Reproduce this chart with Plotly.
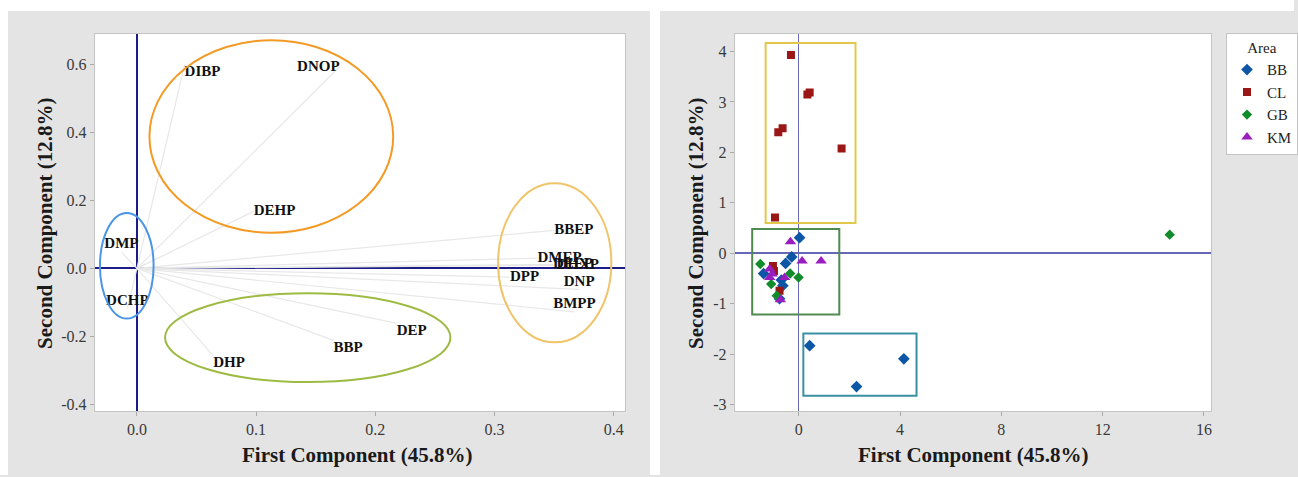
import plotly.graph_objects as go

# ---------------- Left panel: loading plot ----------------
load_labels = ["DMP", "DCHP", "DIBP", "DNOP", "DEHP", "DHP", "BBP", "DEP",
               "BBEP", "DMEP", "DEEP", "DHXP", "DPP", "DNP", "BMPP"]
load_pc1 = [-0.013, -0.008, 0.040, 0.170, 0.098, 0.064, 0.165, 0.218,
            0.350, 0.336, 0.349, 0.352, 0.313, 0.371, 0.367]
load_pc2 = [0.048, -0.118, 0.600, 0.594, 0.168, -0.257, -0.212, -0.162,
            0.112, 0.030, 0.012, 0.009, -0.026, -0.062, -0.128]
load_textpos = ["top center", "top center", "bottom right", "middle left",
                "middle right", "bottom right", "bottom right", "bottom right",
                "middle right", "middle right", "middle right", "middle right",
                "middle right", "top center", "top center"]

left_xticks = [0.0, 0.1, 0.2, 0.3, 0.4]
left_xticklabels = ["0.0", "0.1", "0.2", "0.3", "0.4"]
left_yticks = [-0.4, -0.2, 0.0, 0.2, 0.4, 0.6]
left_yticklabels = ["-0.4", "-0.2", "0.0", "0.2", "0.4", "0.6"]

# ellipses grouping loadings
ellipse_x0 = [0.0105, -0.031, 0.0236, 0.303]
ellipse_x1 = [0.215, 0.014, 0.263, 0.398]
ellipse_y0 = [0.105, -0.148, -0.335, -0.218]
ellipse_y1 = [0.672, 0.163, -0.073, 0.251]
ellipse_colors = ["#f39a25", "#4a96e6", "#9dbb42", "#efc46a"]

# ---------------- Right panel: score plot ----------------
areas = ["BB", "CL", "GB", "KM"]
bb_pc1 = [0.03, -0.28, -0.52, -1.39, -0.69, -0.63, -0.76, 0.43, 4.15, 2.28]
bb_pc2 = [0.31, -0.07, -0.20, -0.40, -0.53, -0.64, -0.90, -1.83, -2.09, -2.64]
cl_pc1 = [-0.31, 0.34, 0.43, -0.81, -0.64, 1.69, -0.94, -1.02, -0.98, -0.76]
cl_pc2 = [3.93, 3.15, 3.19, 2.40, 2.48, 2.08, 0.71, -0.25, -0.35, -0.74]
gb_pc1 = [-1.52, -0.34, -0.01, -1.09, -0.87, 14.65]
gb_pc2 = [-0.21, -0.40, -0.48, -0.61, -0.84, 0.37]
km_pc1 = [-0.33, 0.13, 0.88, -1.15, -1.05, -1.15, -0.56, -0.73]
km_pc2 = [0.23, -0.15, -0.15, -0.31, -0.41, -0.48, -0.48, -0.92]

area_colors = ["#0d56a6", "#9b1616", "#108c2a", "#9a1dc0"]
area_symbols = ["diamond", "square", "diamond", "triangle-up"]

right_xticks = [0, 4, 8, 12, 16]
right_yticks = [-3, -2, -1, 0, 1, 2, 3, 4]

# rectangles grouping scores
rect_x0 = [-1.31, -1.84, 0.18]
rect_x1 = [2.24, 1.60, 4.65]
rect_y0 = [0.60, -1.21, -2.82]
rect_y1 = [4.17, 0.48, -1.59]
rect_colors = ["#e2c84a", "#4f8a50", "#3b8fa3"]

W, H = 1298, 477
FONT = "Liberation Serif"
GREY = "#e4e4e4"

fig = go.Figure()

# loading lines from the origin
lx, ly = [], []
for a, b in zip(load_pc1, load_pc2):
    lx += [0, a, None]
    ly += [0, b, None]
fig.add_trace(go.Scatter(x=lx, y=ly, mode="lines",
                         line=dict(color="#e8e8e8", width=1.2),
                         hoverinfo="skip", showlegend=False,
                         xaxis="x", yaxis="y"))
fig.add_trace(go.Scatter(x=load_pc1, y=load_pc2, mode="text", text=load_labels,
                         textposition=load_textpos,
                         textfont=dict(family=FONT, size=15, color="#111"),
                         texttemplate="<b>%{text}</b>",
                         showlegend=False, xaxis="x", yaxis="y"))

score_x = [bb_pc1, cl_pc1, gb_pc1, km_pc1]
score_y = [bb_pc2, cl_pc2, gb_pc2, km_pc2]
marker_sizes = [9, 8, 8, 10]
for name, xs, ys, col, sym, sz in zip(areas, score_x, score_y, area_colors,
                                      area_symbols, marker_sizes):
    fig.add_trace(go.Scatter(x=xs, y=ys, mode="markers", name=name,
                             marker=dict(color=col, symbol=sym, size=sz,
                                         line=dict(width=0)),
                             xaxis="x2", yaxis="y2"))

shapes = []
# white gaps around the grey panels (paper colour is grey)
for (x0, x1, y0, y1) in [(0, W, 0, 11), (0, 8, 0, H), (652, 662, 0, H)]:
    shapes.append(dict(type="rect", xref="paper", yref="paper",
                       x0=x0 / W, x1=x1 / W, y0=1 - y1 / H, y1=1 - y0 / H,
                       fillcolor="white", line=dict(width=0), layer="below"))
for x0, x1, y0, y1, c in zip(ellipse_x0, ellipse_x1, ellipse_y0, ellipse_y1,
                             ellipse_colors):
    shapes.append(dict(type="circle", xref="x", yref="y", x0=x0, x1=x1,
                       y0=y0, y1=y1, line=dict(color=c, width=2),
                       layer="above"))
for x0, x1, y0, y1, c in zip(rect_x0, rect_x1, rect_y0, rect_y1, rect_colors):
    shapes.append(dict(type="rect", xref="x2", yref="y2", x0=x0, x1=x1,
                       y0=y0, y1=y1, line=dict(color=c, width=2),
                       layer="above"))

tickfont = dict(family=FONT, size=16, color="#3a3a3a")
axis_common = dict(showgrid=False, showline=True, mirror=True,
                   linecolor="#c4c4c4", linewidth=1, ticks="outside",
                   ticklen=4, tickcolor="#aaaaaa", tickfont=tickfont,
                   zeroline=True)


def px(v):
    return v / W


def py(v):
    return 1 - v / H


fig.update_layout(
    width=W, height=H,
    margin=dict(l=0, r=0, t=0, b=0),
    paper_bgcolor=GREY, plot_bgcolor="white",
    shapes=shapes,
    xaxis=dict(domain=[px(95), px(627)], range=[-0.0354, 0.4095],
               tickvals=left_xticks, ticktext=left_xticklabels,
               zerolinecolor="#1c1c86", zerolinewidth=2.2,
               anchor="y", **axis_common),
    yaxis=dict(domain=[py(413), py(34)], range=[-0.421, 0.691],
               tickvals=left_yticks, ticktext=left_yticklabels,
               zerolinecolor="#1c1c86", zerolinewidth=2.2,
               anchor="x", **axis_common),
    xaxis2=dict(domain=[px(737), px(1215)], range=[-2.53, 16.29],
                tickvals=right_xticks,
                zerolinecolor="#6767b8", zerolinewidth=1.2,
                anchor="y2", **axis_common),
    yaxis2=dict(domain=[py(413), py(34)], range=[-3.13, 4.35],
                tickvals=right_yticks,
                ticktext=[str(v) for v in right_yticks],
                zerolinecolor="#6767b8", zerolinewidth=1.5,
                anchor="x2", **axis_common),
    legend=dict(x=px(1230), y=py(33), xanchor="left", yanchor="top",
                bgcolor="white", bordercolor="#c4c4c4", borderwidth=1,
                font=dict(family=FONT, size=15, color="#222"),
                title=dict(text="Area", side="top center",
                           font=dict(family=FONT, size=15, color="#222")),
                tracegroupgap=0, itemwidth=30),
    showlegend=True,
)

title_font = dict(family=FONT, size=21, color="#1a1a1a")
annotations = [
    dict(text="<b>First Component (45.8%)</b>", x=px(358), y=py(457),
         xref="paper", yref="paper", showarrow=False, font=title_font,
         xanchor="center", yanchor="middle"),
    dict(text="<b>Second Component (12.8%)</b>", x=px(45), y=py(224),
         xref="paper", yref="paper", showarrow=False, font=title_font,
         textangle=-90, xanchor="center", yanchor="middle"),
    dict(text="<b>First Component (45.8%)</b>", x=px(976), y=py(457),
         xref="paper", yref="paper", showarrow=False, font=title_font,
         xanchor="center", yanchor="middle"),
    dict(text="<b>Second Component (12.8%)</b>", x=px(698), y=py(224),
         xref="paper", yref="paper", showarrow=False, font=title_font,
         textangle=-90, xanchor="center", yanchor="middle"),
]
fig.update_layout(annotations=annotations)

fig.write_html("out.html",
               config={"displayModeBar": False},
               post_script="document.body.style.margin='0px';"
                           "document.body.style.overflow='hidden';")
